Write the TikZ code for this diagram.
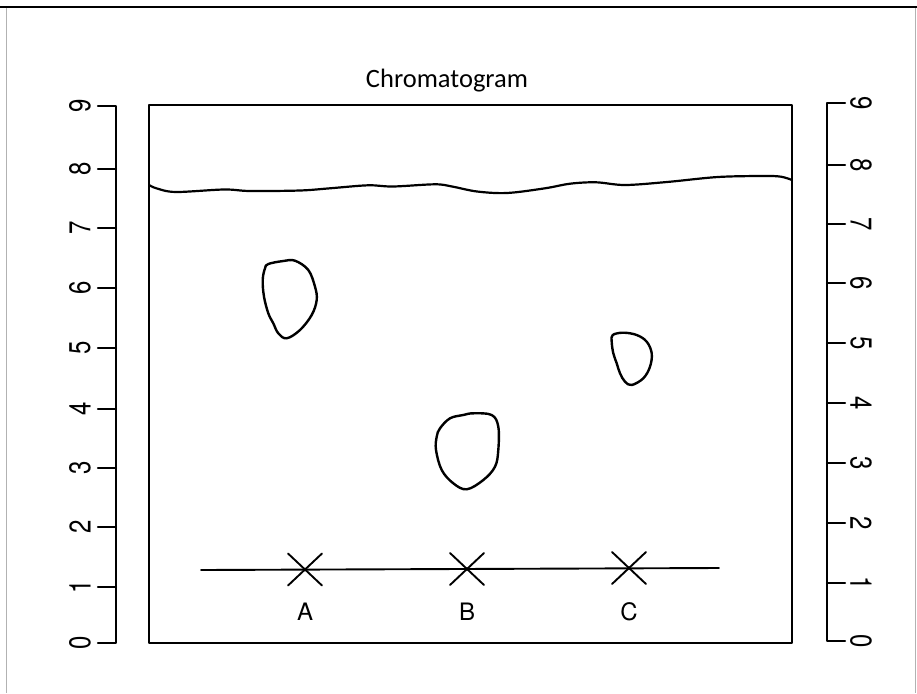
\documentclass[tikz,border=0pt]{standalone}
\usepackage{fontspec}
\usetikzlibrary{calc}
\setmainfont{TeX Gyre Heros}
\newfontfamily\titlefont{Carlito}
\begin{document}
\begin{tikzpicture}[x=1pt,y=-1pt,
  ink/.style={line width=2.2pt, line cap=round, line join=round},
  frame/.style={line width=0.8pt, draw=black!30},
  lbl/.style={inner sep=0pt, font=\fontsize{30}{30}\selectfont},
  rlab/.style={lbl, rotate=-90},
  llab/.style={lbl, rotate=90},
  spot/.style={ink, line width=2.4pt},
  abc/.style={inner sep=0pt, font=\fontsize{24}{24}\selectfont}]
\useasboundingbox (0,0) rectangle (917,693);
% page frame
\draw[frame] (6,7) -- (6,693);
\draw[frame] (915,7) -- (915,693);
\draw[line width=2.4pt] (0,7) -- (917,7);
% title
\node[inner sep=0pt, anchor=base, font=\titlefont\fontsize{26.5}{26.5}\selectfont] (title) at (447,87) {Chromatogram};
% left ruler
\draw[ink] (98,106) -- (116,106) -- (116,643) -- (98,643);
\foreach \k/\y in {1/587,2/527,3/468,4/409,5/348,6/288,7/228,8/169}{
  \draw[ink] (98,\y) -- (116,\y);
}
\foreach \k/\y in {0/643,1/587,2/527,3/468,4/409,5/348,6/288,7/228,8/169,9/106}{
  \node[llab] (L\k) at (80,\y) {\scalebox{0.8}[1]{\k}};
}
% right ruler
\draw[ink] (845,103) -- (827,103) -- (827,641) -- (845,641);
\foreach \k/\y in {1/583,2/523,3/463,4/403,5/343,6/283,7/224,8/165}{
  \draw[ink] (827,\y) -- (845,\y);
}
\foreach \k/\y in {0/641,1/583,2/523,3/463,4/403,5/343,6/283,7/224,8/165,9/103}{
  \node[rlab] (R\k) at (861,\y) {\scalebox{0.8}[1]{\k}};
}
% paper
\draw[ink] (149,643) -- (149,105) -- (792,105) -- (792,643) -- cycle;
% solvent front
\draw[ink] plot[smooth, tension=0.55] coordinates {
 (149,185) (157,188.5) (176,192) (224,189.5) (250,191) (300,190.5) (330,188.3)
 (368,185.3) (393,186.5) (435,184.3) (452,186.5) (477,191.5) (507,193)
 (545,188.3) (570,183.7) (596,182.3) (625,185) (667,182) (718,177)
 (764,176) (781,176.7) (792,180)};
% spots
\draw[spot] plot[smooth cycle, tension=0.6] coordinates {
 (268.3,264) (283.3,261) (295,260.7) (308.3,270) (315,286.7) (316.7,300)
 (311.7,315) (300,330) (286.7,338.3) (278.3,333.3) (273.3,323.3) (268.3,313.3)
 (264,296.7) (262.7,280) (265,268.3)};
\draw[spot] plot[smooth cycle, tension=0.6] coordinates {
 (440,428.3) (450,418.3) (463.3,415) (473.3,413.3) (491.7,415) (498.3,426.7)
 (498.3,450) (495,466.7) (483.3,480) (466.7,489.3) (453.3,483.3) (441.7,470)
 (436,450) (436.7,436.7)};
\draw[spot] plot[smooth cycle, tension=0.6] coordinates {
 (612.7,335) (623.3,332.7) (636.7,335) (646.7,341.7) (651.7,353.3) (650,366.7)
 (643.3,378.3) (631.7,385) (625,381.7) (620,373.3) (616.7,363.3) (613.3,353.3)
 (611.7,341.7)};
% baseline and origins
\coordinate (bl) at (201,570);
\coordinate (br) at (719,568);
\draw[ink, line width=1.9pt] (bl) -- (br);
\foreach \n/\x/\y in {A/305/569.5,B/467/569,C/629/568}{
  \coordinate (x\n) at (\x,\y);
  \draw[ink, line width=1.9pt] ($(x\n)+(-17,-16)$) -- ($(x\n)+(17,16)$);
  \draw[ink, line width=1.9pt] ($(x\n)+(-17,16)$) -- ($(x\n)+(17,-16)$);
}
\node[abc] (lA) at (305,612) {A};
\node[abc] (lB) at (467,612) {B};
\node[abc] (lC) at (629,612) {C};
\end{tikzpicture}
\end{document}
